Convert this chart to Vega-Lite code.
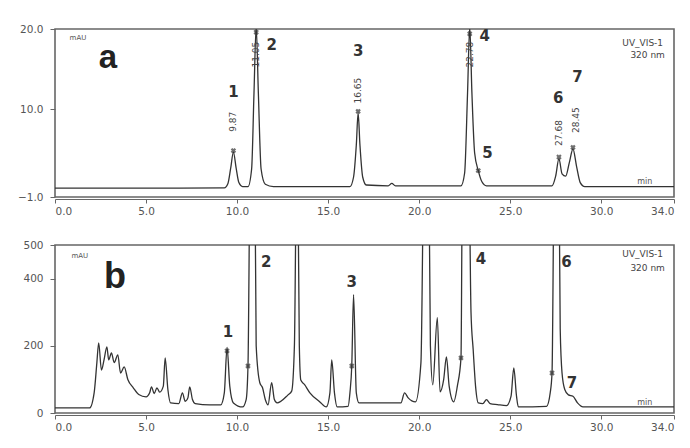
{
  "$schema": "https://vega.github.io/schema/vega-lite/v6.json",
  "background": "white",
  "padding": {"left": 16, "top": 23, "right": 5, "bottom": 5},
  "spacing": 48,
  "bounds": "flush",
  "config": {
    "view": {"stroke": "#666", "strokeWidth": 1.6},
    "axis": {"grid": false, "title": null, "labelFont": "DejaVu Sans", "labelFontSize": 10.5, "labelColor": "#555", "tickColor": "#666", "domainColor": "#666", "tickSize": 5, "labelPadding": 5},
    "axisY": {"domain": false, "labelPadding": 7},
    "axisX": {"offset": 2, "tickSize": 4, "labelPadding": 3},
    "text": {"font": "DejaVu Sans", "color": "#333"}
  },
  "datasets": {
    "traceA": [
      {"t": 0, "v": 0.1}, {"t": 5, "v": 0.1}, {"t": 9.3, "v": 0.15}, {"t": 9.5, "v": 0.7}, {"t": 9.65, "v": 2.6}, {"t": 9.8, "v": 4.6}, {"t": 9.95, "v": 2.6}, {"t": 10.1, "v": 0.8}, {"t": 10.3, "v": 0.3},
      {"t": 10.6, "v": 0.3}, {"t": 10.8, "v": 2.5}, {"t": 10.93, "v": 12}, {"t": 11.05, "v": 20.3}, {"t": 11.17, "v": 12}, {"t": 11.32, "v": 2.5}, {"t": 11.55, "v": 0.6}, {"t": 12, "v": 0.3},
      {"t": 16.2, "v": 0.3}, {"t": 16.4, "v": 1.5}, {"t": 16.55, "v": 5.5}, {"t": 16.65, "v": 9.5}, {"t": 16.75, "v": 5.5}, {"t": 16.9, "v": 1.5}, {"t": 17.1, "v": 0.5},
      {"t": 18.3, "v": 0.4}, {"t": 18.5, "v": 0.7}, {"t": 18.7, "v": 0.4},
      {"t": 22.3, "v": 0.4}, {"t": 22.5, "v": 2}, {"t": 22.66, "v": 12}, {"t": 22.78, "v": 20.3}, {"t": 22.9, "v": 12}, {"t": 23.05, "v": 4.5}, {"t": 23.25, "v": 2.3}, {"t": 23.45, "v": 0.9}, {"t": 23.7, "v": 0.4},
      {"t": 27.3, "v": 0.4}, {"t": 27.5, "v": 1.6}, {"t": 27.68, "v": 3.8}, {"t": 27.85, "v": 1.9}, {"t": 28.05, "v": 1.6}, {"t": 28.25, "v": 3.3}, {"t": 28.45, "v": 5.0}, {"t": 28.65, "v": 2.8}, {"t": 28.85, "v": 0.8}, {"t": 29.1, "v": 0.3},
      {"t": 34, "v": 0.3}
    ],
    "markA": [
      {"t": 9.8, "v": 4.8}, {"t": 11.05, "v": 19.6}, {"t": 16.65, "v": 9.7}, {"t": 22.78, "v": 19.4}, {"t": 23.25, "v": 2.3}, {"t": 27.68, "v": 4.0}, {"t": 28.45, "v": 5.2}
    ],
    "numA": [
      {"t": 9.8, "v": 12.1, "s": "1"}, {"t": 11.9, "v": 18.0, "s": "2"}, {"t": 16.65, "v": 17.2, "s": "3"}, {"t": 23.6, "v": 19.1, "s": "4"}, {"t": 23.75, "v": 4.5, "s": "5"}, {"t": 27.64, "v": 11.4, "s": "6"}, {"t": 28.7, "v": 14.0, "s": "7"}
    ],
    "rtA": [
      {"t": 9.8, "v": 8.4, "s": "9.87"}, {"t": 11.05, "v": 16.8, "s": "11.05"}, {"t": 16.65, "v": 12.3, "s": "16.65"}, {"t": 22.78, "v": 16.8, "s": "22.78"}, {"t": 27.68, "v": 7.0, "s": "27.68"}, {"t": 28.6, "v": 8.6, "s": "28.45"}
    ],
    "traceB": [
      {"t": 0, "v": 15}, {"t": 1.9, "v": 15}, {"t": 2.15, "v": 60}, {"t": 2.3, "v": 150}, {"t": 2.4, "v": 209}, {"t": 2.55, "v": 128}, {"t": 2.7, "v": 160}, {"t": 2.85, "v": 197}, {"t": 2.95, "v": 158}, {"t": 3.1, "v": 179}, {"t": 3.25, "v": 150}, {"t": 3.45, "v": 173}, {"t": 3.6, "v": 119}, {"t": 3.8, "v": 137},
      {"t": 4.0, "v": 100}, {"t": 4.3, "v": 75}, {"t": 4.6, "v": 55}, {"t": 5.0, "v": 48}, {"t": 5.2, "v": 60}, {"t": 5.3, "v": 78}, {"t": 5.45, "v": 58}, {"t": 5.6, "v": 75}, {"t": 5.75, "v": 62}, {"t": 5.95, "v": 80}, {"t": 6.05, "v": 164}, {"t": 6.2, "v": 70}, {"t": 6.35, "v": 30},
      {"t": 6.8, "v": 28}, {"t": 7.0, "v": 60}, {"t": 7.15, "v": 35}, {"t": 7.3, "v": 45}, {"t": 7.4, "v": 78}, {"t": 7.55, "v": 40}, {"t": 7.7, "v": 28}, {"t": 8.5, "v": 24}, {"t": 9.1, "v": 24}, {"t": 9.3, "v": 60}, {"t": 9.45, "v": 195}, {"t": 9.6, "v": 80}, {"t": 9.8, "v": 30},
      {"t": 10.3, "v": 18}, {"t": 10.5, "v": 40}, {"t": 10.6, "v": 140}, {"t": 10.75, "v": 900}, {"t": 10.95, "v": 900}, {"t": 11.05, "v": 200}, {"t": 11.25, "v": 90}, {"t": 11.4, "v": 75}, {"t": 11.55, "v": 40}, {"t": 11.7, "v": 24}, {"t": 11.9, "v": 90}, {"t": 12.05, "v": 40}, {"t": 12.2, "v": 30},
      {"t": 12.8, "v": 54}, {"t": 13.0, "v": 65}, {"t": 13.15, "v": 200}, {"t": 13.3, "v": 900}, {"t": 13.42, "v": 200}, {"t": 13.5, "v": 98}, {"t": 13.7, "v": 85}, {"t": 14.0, "v": 60}, {"t": 14.55, "v": 33}, {"t": 14.9, "v": 18},
      {"t": 15.1, "v": 60}, {"t": 15.2, "v": 158}, {"t": 15.35, "v": 60}, {"t": 15.5, "v": 18}, {"t": 16.1, "v": 20}, {"t": 16.2, "v": 60}, {"t": 16.3, "v": 140}, {"t": 16.4, "v": 352}, {"t": 16.55, "v": 60}, {"t": 16.7, "v": 30},
      {"t": 19.0, "v": 30}, {"t": 19.2, "v": 60}, {"t": 19.4, "v": 45}, {"t": 19.8, "v": 33}, {"t": 20.1, "v": 150}, {"t": 20.3, "v": 900}, {"t": 20.5, "v": 900}, {"t": 20.62, "v": 200}, {"t": 20.75, "v": 84}, {"t": 21.0, "v": 284}, {"t": 21.15, "v": 63}, {"t": 21.35, "v": 100}, {"t": 21.5, "v": 167}, {"t": 21.65, "v": 80}, {"t": 21.9, "v": 33},
      {"t": 22.1, "v": 80}, {"t": 22.3, "v": 164}, {"t": 22.4, "v": 900}, {"t": 22.7, "v": 900}, {"t": 22.85, "v": 300}, {"t": 22.97, "v": 188}, {"t": 23.1, "v": 80}, {"t": 23.25, "v": 30}, {"t": 23.5, "v": 28}, {"t": 23.7, "v": 40}, {"t": 23.9, "v": 28}, {"t": 24.3, "v": 25}, {"t": 24.8, "v": 22},
      {"t": 25.05, "v": 50}, {"t": 25.2, "v": 134}, {"t": 25.35, "v": 50}, {"t": 25.45, "v": 18}, {"t": 27.0, "v": 20}, {"t": 27.2, "v": 60}, {"t": 27.3, "v": 119}, {"t": 27.45, "v": 900}, {"t": 27.65, "v": 900}, {"t": 27.75, "v": 250}, {"t": 27.85, "v": 119}, {"t": 28.0, "v": 70}, {"t": 28.2, "v": 54}, {"t": 28.45, "v": 50}, {"t": 28.7, "v": 30}, {"t": 29.0, "v": 18}, {"t": 34.0, "v": 18}
    ],
    "markB": [
      {"t": 9.45, "v": 185}, {"t": 10.6, "v": 140}, {"t": 16.3, "v": 140}, {"t": 22.3, "v": 164}, {"t": 27.3, "v": 119}
    ],
    "numB": [
      {"t": 9.5, "v": 240, "s": "1"}, {"t": 11.6, "v": 450, "s": "2"}, {"t": 16.3, "v": 390, "s": "3"}, {"t": 23.4, "v": 458, "s": "4"}, {"t": 28.1, "v": 450, "s": "6"}, {"t": 28.4, "v": 88, "s": "7"}
    ]
  },
  "vconcat": [
    {
      "width": 619, "height": 168,
      "layer": [
        {"data": {"name": "traceA"}, "mark": {"type": "line", "clip": true, "color": "#333", "strokeWidth": 1.3, "interpolate": "monotone"},
         "encoding": {
           "x": {"field": "t", "type": "quantitative", "scale": {"domain": [0, 34], "nice": false}, "axis": {"values": [0, 5, 10, 15, 20, 25, 30, 34], "format": ".1f"}},
           "y": {"field": "v", "type": "quantitative", "scale": {"domain": [-1, 20], "nice": false, "zero": false}, "axis": {"values": [-1, 10, 20], "format": ".1f"}}
         }},
        {"data": {"name": "markA"}, "mark": {"type": "point", "shape": "cross", "angle": 45, "size": 30, "filled": true, "color": "#333", "clip": true},
         "encoding": {"x": {"field": "t", "type": "quantitative"}, "y": {"field": "v", "type": "quantitative"}}},
        {"data": {"name": "numA"}, "mark": {"type": "text", "fontSize": 15, "fontWeight": "bold", "align": "center", "baseline": "middle"},
         "encoding": {"x": {"field": "t", "type": "quantitative"}, "y": {"field": "v", "type": "quantitative"}, "text": {"field": "s"}}},
        {"data": {"name": "rtA"}, "mark": {"type": "text", "fontSize": 9, "angle": 270, "align": "center", "baseline": "middle", "color": "#444"},
         "encoding": {"x": {"field": "t", "type": "quantitative"}, "y": {"field": "v", "type": "quantitative"}, "text": {"field": "s"}}},
        {"data": {"values": [{"t": 2.9, "v": 15.1, "s": "a"}]}, "mark": {"type": "text", "fontSize": 33, "fontWeight": "bold", "align": "center", "baseline": "alphabetic", "font": "Liberation Sans", "color": "#222"},
         "encoding": {"x": {"field": "t", "type": "quantitative"}, "y": {"field": "v", "type": "quantitative"}, "text": {"field": "s"}}},
        {"data": {"values": [{"t": 0.8, "v": 18.9, "s": "mAU"}]}, "mark": {"type": "text", "fontSize": 7, "align": "left", "baseline": "middle", "color": "#555"},
         "encoding": {"x": {"field": "t", "type": "quantitative"}, "y": {"field": "v", "type": "quantitative"}, "text": {"field": "s"}}},
        {"data": {"values": [{"t": 33.4, "v": 18.3, "s": "UV_VIS-1"}, {"t": 33.5, "v": 16.7, "s": "320 nm"}]}, "mark": {"type": "text", "fontSize": 9, "align": "right", "baseline": "middle", "color": "#444"},
         "encoding": {"x": {"field": "t", "type": "quantitative"}, "y": {"field": "v", "type": "quantitative"}, "text": {"field": "s"}}},
        {"data": {"values": [{"t": 32.4, "v": 0.9, "s": "min"}]}, "mark": {"type": "text", "fontSize": 8, "align": "center", "baseline": "middle", "color": "#555"},
         "encoding": {"x": {"field": "t", "type": "quantitative"}, "y": {"field": "v", "type": "quantitative"}, "text": {"field": "s"}}}
      ]
    },
    {
      "width": 619, "height": 168,
      "layer": [
        {"data": {"name": "traceB"}, "mark": {"type": "line", "clip": true, "color": "#333", "strokeWidth": 1.3, "interpolate": "monotone"},
         "encoding": {
           "x": {"field": "t", "type": "quantitative", "scale": {"domain": [0, 34], "nice": false}, "axis": {"values": [0, 5, 10, 15, 20, 25, 30, 34], "format": ".1f"}},
           "y": {"field": "v", "type": "quantitative", "scale": {"domain": [0, 500], "nice": false}, "axis": {"values": [0, 200, 400, 500], "format": "d"}}
         }},
        {"data": {"name": "markB"}, "mark": {"type": "point", "shape": "cross", "angle": 45, "size": 30, "filled": true, "color": "#333", "clip": true},
         "encoding": {"x": {"field": "t", "type": "quantitative"}, "y": {"field": "v", "type": "quantitative"}}},
        {"data": {"name": "numB"}, "mark": {"type": "text", "fontSize": 15, "fontWeight": "bold", "align": "center", "baseline": "middle"},
         "encoding": {"x": {"field": "t", "type": "quantitative"}, "y": {"field": "v", "type": "quantitative"}, "text": {"field": "s"}}},
        {"data": {"values": [{"t": 3.3, "v": 373, "s": "b"}]}, "mark": {"type": "text", "fontSize": 36, "fontWeight": "bold", "align": "center", "baseline": "alphabetic", "font": "Liberation Sans", "color": "#222"},
         "encoding": {"x": {"field": "t", "type": "quantitative"}, "y": {"field": "v", "type": "quantitative"}, "text": {"field": "s"}}},
        {"data": {"values": [{"t": 0.9, "v": 466, "s": "mAU"}]}, "mark": {"type": "text", "fontSize": 7, "align": "left", "baseline": "middle", "color": "#555"},
         "encoding": {"x": {"field": "t", "type": "quantitative"}, "y": {"field": "v", "type": "quantitative"}, "text": {"field": "s"}}},
        {"data": {"values": [{"t": 33.4, "v": 472, "s": "UV_VIS-1"}, {"t": 33.5, "v": 433, "s": "320 nm"}]}, "mark": {"type": "text", "fontSize": 9, "align": "right", "baseline": "middle", "color": "#444"},
         "encoding": {"x": {"field": "t", "type": "quantitative"}, "y": {"field": "v", "type": "quantitative"}, "text": {"field": "s"}}},
        {"data": {"values": [{"t": 32.4, "v": 30, "s": "min"}]}, "mark": {"type": "text", "fontSize": 8, "align": "center", "baseline": "middle", "color": "#555"},
         "encoding": {"x": {"field": "t", "type": "quantitative"}, "y": {"field": "v", "type": "quantitative"}, "text": {"field": "s"}}}
      ]
    }
  ]
}
